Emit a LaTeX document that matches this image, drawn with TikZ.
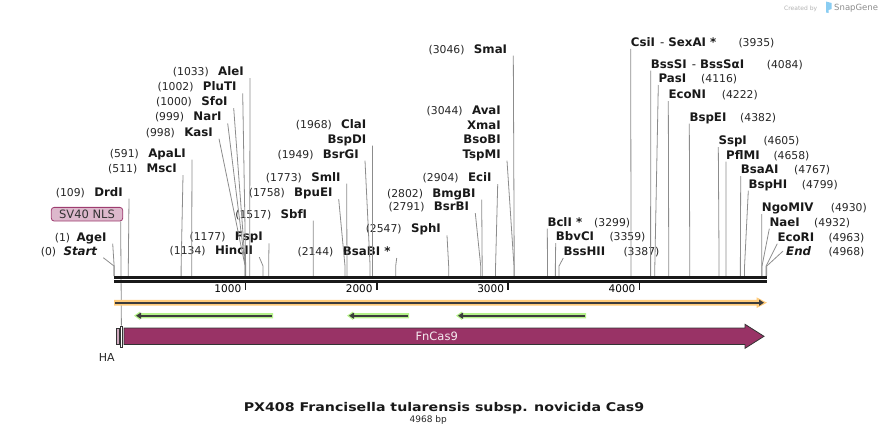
\documentclass[tikz,border=0pt]{standalone}
\usepackage{fontspec}
\setmainfont{DejaVu Sans}
\usepackage{xcolor}
\usepackage{graphicx}
\definecolor{gristrait}{HTML}{8C8C8C}
\definecolor{violetcas}{HTML}{993366}
\definecolor{rosenls}{HTML}{DDB8CC}
\definecolor{bordnls}{HTML}{9E3D70}
\definecolor{roseha}{HTML}{CFA9BE}
\definecolor{orifond}{HTML}{FFCB7A}
\definecolor{vertfond}{HTML}{B5F28A}
\definecolor{traitfonce}{HTML}{3C3C3C}
\definecolor{logobleu}{HTML}{8ACDF2}
\usetikzlibrary{positioning,arrows.meta}

\begin{document}
\begin{tikzpicture}[x=1pt,y=-1pt,
  enz/.style={font=\fontsize{11.8}{13}\selectfont\bfseries,text=black!90,inner sep=0pt},
  num/.style={font=\fontsize{10.8}{12}\selectfont,text=black!85,inner sep=0pt},
  coupe/.style={draw=gristrait,line width=0.8pt},
  dos/.style={draw=black!90,line width=2.4pt},
  grad/.style={draw=black!90,line width=1.6pt},
  trait/.style={draw=traitfonce,line width=1.8pt,-{Triangle[length=5pt,width=6pt]}}
]
\useasboundingbox (0,0) rectangle (882,439);
% logo
\node[font=\fontsize{6}{7}\selectfont,text=black!30,anchor=base west,inner sep=0pt] (cree) at (784,10) {Created by};
\fill[logobleu] (826,1.5) -- (831.5,3) -- (831.5,9) -- (828.5,10) -- (828.5,13) -- (826,12.5) -- cycle;
\node[font=\fontsize{8.5}{10}\selectfont,text=black!45,anchor=base west,inner sep=0pt] (sg) at (834,10.3) {SnapGene};

% sites de coupure
\foreach \n/\p in {start/0,age/1,drd/109,msc/511,apa/591,kas/998,nar/999,sfo/1000,plu/1002,ale/1033,
  hinc/1134,fsp/1177,sbf/1517,bpu/1758,sml/1773,bsrg/1949,bspd/1968,bsab/2144,sph/2547,bsrb/2791,
  bmg/2802,eci/2904,tsp/3044,sma/3046,bcl/3299,bbv/3359,bsshii/3387,csi/3935,bsss/4084,pas/4116,
  econ/4222,bspe/4382,ssp/4605,pfl/4658,bsaa/4767,bsph/4799,ngo/4930,nae/4932,ecor/4963,fin/4968}
  \coordinate (c\n) at ({114+0.1314*\p},276);

% enzymes, etiquette a gauche du site
\node[enz,anchor=base east] (start) at (97.3,255.2) {\itshape Start}; \node[num,base left=7pt of start] {(0)};
\node[enz,anchor=base east] (age) at (106.7,241.2) {AgeI}; \node[num,base left=6pt of age] {(1)};
\node[enz,anchor=base east] (drd) at (123,196.2) {DrdI}; \node[num,base left=9pt of drd] {(109)};
\node[enz,anchor=base east] (msc) at (177,172.7) {MscI}; \node[num,base left=9pt of msc] {(511)};
\node[enz,anchor=base east] (apa) at (186,157.2) {ApaLI}; \node[num,base left=9pt of apa] {(591)};
\node[enz,anchor=base east] (kas) at (213,136.2) {KasI}; \node[num,base left=9pt of kas] {(998)};
\node[enz,anchor=base east] (nar) at (221.7,120.9) {NarI}; \node[num,base left=9pt of nar] {(999)};
\node[enz,anchor=base east] (sfo) at (227.7,105.7) {SfoI}; \node[num,base left=9pt of sfo] {(1000)};
\node[enz,anchor=base east] (plu) at (236.7,90.9) {PluTI}; \node[num,base left=9pt of plu] {(1002)};
\node[enz,anchor=base east] (ale) at (244,75.7) {AleI}; \node[num,base left=9pt of ale] {(1033)};
\node[enz,anchor=base east] (hinc) at (253.3,254.7) {HincII}; \node[num,base left=9pt of hinc] {(1134)};
\node[enz,anchor=base east] (fsp) at (263,240.9) {FspI}; \node[num,base left=9pt of fsp] {(1177)};
\node[enz,anchor=base east] (sbf) at (307.3,218.2) {SbfI}; \node[num,base left=9pt of sbf] {(1517)};
\node[enz,anchor=base east] (bpu) at (332.7,196.7) {BpuEI}; \node[num,base left=9pt of bpu] {(1758)};
\node[enz,anchor=base east] (sml) at (340.7,181.2) {SmlI}; \node[num,base left=9pt of sml] {(1773)};
\node[enz,anchor=base east] (bsrg) at (359,158.2) {BsrGI}; \node[num,base left=9pt of bsrg] {(1949)};
\node[enz,anchor=base east] (cla) at (366.5,128.5) {ClaI}; \node[num,base left=9pt of cla] {(1968)};
\node[enz,anchor=base east] (bspd) at (366.5,143.2) {BspDI};
\node[enz,anchor=base east] (bsab) at (390.7,255.5) {BsaBI *}; \node[num,base left=9pt of bsab] {(2144)};
\node[enz,anchor=base east] (sph) at (441,232.9) {SphI}; \node[num,base left=9pt of sph] {(2547)};
\node[enz,anchor=base east] (bsrb) at (469.3,210.7) {BsrBI}; \node[num,base left=9pt of bsrb] {(2791)};
\node[enz,anchor=base east] (bmg) at (475.7,197.2) {BmgBI}; \node[num,base left=9pt of bmg] {(2802)};
\node[enz,anchor=base east] (eci) at (491.7,181.7) {EciI}; \node[num,base left=9pt of eci] {(2904)};
\node[enz,anchor=base east] (ava) at (501,114.2) {AvaI}; \node[num,base left=9pt of ava] {(3044)};
\node[enz,anchor=base east] (xma) at (501,129.2) {XmaI};
\node[enz,anchor=base east] (bso) at (501,143.2) {BsoBI};
\node[enz,anchor=base east] (tsp) at (501,158.2) {TspMI};
\node[enz,anchor=base east] (sma) at (507.3,53.2) {SmaI}; \node[num,base left=9pt of sma] {(3046)};

% enzymes, etiquette a droite du site
\node[enz,anchor=base west] (bcl) at (547.3,226.2) {BclI *}; \node[num,anchor=base west] at (594,226.2) {(3299)};
\node[enz,anchor=base west] (bbv) at (555.7,240.7) {BbvCI}; \node[num,anchor=base west] at (609.3,240.7) {(3359)};
\node[enz,anchor=base west] (bsshii) at (563.3,255.5) {BssHII}; \node[num,anchor=base west] at (623.3,255.5) {(3387)};
\node[enz,anchor=base west] (csi) at (630.7,46.4) {CsiI\hspace{5pt}{\mdseries -} SexAI *}; \node[num,anchor=base west] at (738.3,46.4) {(3935)};
\node[enz,anchor=base west] (bsss) at (650.7,68) {BssSI\hspace{5pt}{\mdseries -} BssSαI}; \node[num,anchor=base west] at (766.7,68) {(4084)};
\node[enz,anchor=base west] (pas) at (658.3,82.5) {PasI}; \node[num,anchor=base west] at (701,82.5) {(4116)};
\node[enz,anchor=base west] (econ) at (668.3,98.7) {EcoNI}; \node[num,anchor=base west] at (721.7,98.7) {(4222)};
\node[enz,anchor=base west] (bspe) at (689.3,121.2) {BspEI}; \node[num,anchor=base west] at (740,121.2) {(4382)};
\node[enz,anchor=base west] (ssp) at (718.3,144.7) {SspI}; \node[num,anchor=base west] at (763.3,144.7) {(4605)};
\node[enz,anchor=base west] (pfl) at (726,159.2) {PflMI}; \node[num,anchor=base west] at (773.3,159.2) {(4658)};
\node[enz,anchor=base west] (bsaa) at (740.7,173.7) {BsaAI}; \node[num,anchor=base west] at (794,173.7) {(4767)};
\node[enz,anchor=base west] (bsph) at (748.3,188.2) {BspHI}; \node[num,anchor=base west] at (801.7,188.2) {(4799)};
\node[enz,anchor=base west] (ngo) at (761.7,211.5) {NgoMIV}; \node[num,anchor=base west] at (830.7,211.5) {(4930)};
\node[enz,anchor=base west] (nae) at (769.3,226.2) {NaeI}; \node[num,anchor=base west] at (814,226.2) {(4932)};
\node[enz,anchor=base west] (ecor) at (777.3,241.2) {EcoRI}; \node[num,anchor=base west] at (828.3,241.2) {(4963)};
\node[enz,anchor=base west] (fin) at (786,255.5) {\itshape End}; \node[num,anchor=base west] at (828.3,255.5) {(4968)};

% traits vers les sites
\foreach \n in {start,age,drd,msc,apa,kas,nar,sfo,plu,ale,hinc,fsp,sbf,bpu,sml,bsrg,bspd,bsab,sph,bsrb,bmg,eci,tsp,sma}
  \draw[coupe] ([shift={(6,2.5)}]\n.base east) -- (c\n |- 0,266) -- (c\n);
\foreach \n in {bcl,bbv,bsshii,csi,bsss,pas,econ,bspe,ssp,pfl,bsaa,bsph,ngo,nae,ecor}
  \draw[coupe] ([shift={(0,2.5)}]\n.base west) -- (c\n |- 0,266) -- (c\n);
\draw[coupe] ([xshift=-3pt]fin.west) -- (cfin |- 0,266) -- (cfin);

% SV40 NLS et HA
\node[draw=bordnls,fill=rosenls,rounded corners=3pt,minimum width=71.5pt,minimum height=13.7pt,inner sep=0pt,
  line width=0.8pt,font=\fontsize{11.5}{12}\selectfont,text=black!80] (sv) at (87,214.2) {SV40 NLS};
\node[draw=black!80,fill=white,minimum width=2.6pt,minimum height=21pt,inner sep=0pt,line width=0.7pt] (nls) at (121.4,336.5) {};
\draw[coupe] ([xshift=-2.5pt]sv.south east) -- (nls.north);

% squelette
\draw[dos] (114,277.3) -- (767,277.3);
\draw[dos] (114,281.3) -- (767,281.3);
\foreach \k in {1,...,4} {
  \draw[grad] ({114+131.4*\k},282) -- ++(0,8);
  \node[font=\fontsize{10.5}{12}\selectfont,inner sep=0pt,anchor=base east] (g\k) at ({110+131.4*\k},292.7) {\k000};
}

% origine
\fill[orifond] (114,299.8) -- (756.5,299.8) -- (756.5,297.3) -- (767,302.7) -- (756.5,308.1) -- (756.5,305.6) -- (114,305.6) -- cycle;
\draw[trait] (115,302.7) -- (764,302.7);
% amorces
\foreach \a/\b in {134/273,347/409,456/586} {
  \fill[vertfond] (\b,313) -- (\a+6,313) -- (\a+6,311.5) -- (\a,315.7) -- (\a+6,320) -- (\a+6,318.4) -- (\b,318.4) -- cycle;
  \draw[trait] (\b-1,315.7) -- (\a+2,315.7);
}

% FnCas9
\filldraw[fill=violetcas,draw=black!80,line width=0.8pt] (124,328) -- (745,328) -- (745,324.3) -- (764,336.3)
  -- (745,348.3) -- (745,344.5) -- (124,344.5) -- cycle;
\node[font=\fontsize{11.5}{12}\selectfont,text=white!90!violetcas] (fncas) at (436.7,336.3) {FnCas9};
\node[draw=black!80,fill=roseha,minimum width=3.4pt,minimum height=16pt,inner sep=0pt,line width=0.7pt] (ha) at (117.7,336.3) {};
\node[font=\fontsize{11}{12}\selectfont,text=black!85] (halab) at (106.7,357.5) {HA};

% titre
\node[font=\fontsize{12}{14}\selectfont\bfseries,text=black!90,anchor=base] (titre) at (444,411.7)
  {\scalebox{1.18}[1]{PX408 Francisella tularensis subsp. novicida Cas9}};
\node[font=\fontsize{9}{11}\selectfont,text=black!85,anchor=base] (taille) at (428.3,422) {4968 bp};
\end{tikzpicture}
\end{document}
